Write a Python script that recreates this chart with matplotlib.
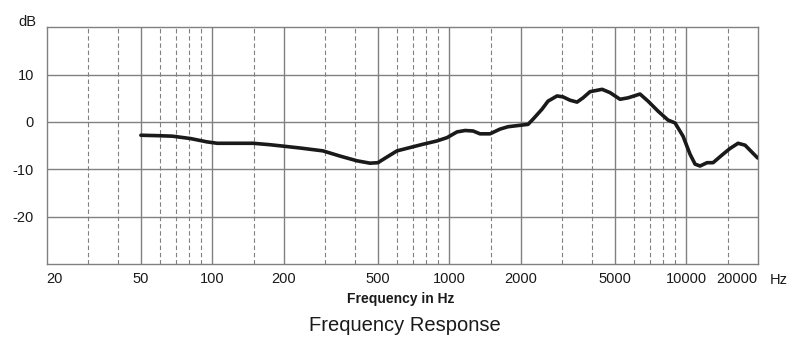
import matplotlib
matplotlib.use("Agg")
import matplotlib.pyplot as plt

plt.rcParams['font.family'] = ['Liberation Sans', 'DejaVu Sans']

# measured response (Hz, dB)
freq = [50, 60, 68, 81, 95, 105, 119, 149, 175, 199, 235, 293, 346, 408,
        463, 500, 546, 602, 683, 775, 888, 979, 1078, 1166, 1260, 1348,
        1486, 1638, 1770, 1989, 2150, 2257, 2462, 2610, 2849, 3020, 3232,
        3460, 3668, 3926, 4413, 4769, 5253, 5679, 6380, 6897, 7597, 8376,
        8965, 9690, 10370, 10890, 11430, 12230, 12970, 14290, 15290, 16540,
        17700, 20000]
level = [-2.8, -2.9, -3.0, -3.5, -4.2, -4.5, -4.5, -4.5, -4.8, -5.1, -5.5,
         -6.1, -7.2, -8.2, -8.7, -8.6, -7.4, -6.1, -5.4, -4.7, -4.0, -3.3,
         -2.1, -1.8, -1.9, -2.5, -2.5, -1.5, -1.0, -0.7, -0.5, 0.6, 2.7,
         4.4, 5.5, 5.3, 4.6, 4.2, 5.1, 6.4, 6.9, 6.2, 4.8, 5.1, 5.9, 4.4,
         2.3, 0.4, -0.2, -3.0, -6.8, -8.9, -9.3, -8.6, -8.6, -6.8, -5.6,
         -4.5, -4.9, -7.6]

major_f = [50, 100, 200, 500, 1000, 2000, 5000, 10000]
minor_f = [30, 40, 60, 70, 80, 90, 150, 300, 400, 600, 700, 800, 900,
           1500, 3000, 4000, 6000, 7000, 8000, 9000, 15000]
xtick_f = [20, 50, 100, 200, 500, 1000, 2000, 5000, 10000, 20000]
ytick_db = [10, 0, -10, -20]

grid_col = '#808080'
text_col = '#1a1a1a'

fig = plt.figure(figsize=(7.96, 3.43), dpi=100)
ax = fig.add_axes([0.0585, 0.2303, 0.8933, 0.6901])

for f in minor_f:
    ax.axvline(f, color=grid_col, lw=0.8, ls=(0, (4, 2.5)), zorder=1)
for f in major_f:
    ax.axvline(f, color=grid_col, lw=1.0, zorder=1)
for d in ytick_db:
    ax.axhline(d, color=grid_col, lw=1.0, zorder=1)

ax.plot(freq, level, color='#1a1a1a', lw=2.6, solid_joinstyle='round',
        solid_capstyle='round', zorder=3)

ax.set_xscale('log')
ax.set_xlim(20, 20000)
ax.set_ylim(-30, 20)

ax.set_xticks(xtick_f)
ax.set_xticklabels([str(f) for f in xtick_f])
ax.xaxis.set_minor_locator(matplotlib.ticker.NullLocator())
ax.set_yticks(ytick_db)
ax.set_yticklabels([str(d) for d in ytick_db])
ax.tick_params(axis='both', length=0, labelsize=10.5, colors=text_col)
ax.tick_params(axis='y', pad=9)
ax.tick_params(axis='x', pad=6)
labels = ax.get_xticklabels()
labels[0].set_horizontalalignment('left')
labels[-1].set_horizontalalignment('right')

for s in ax.spines.values():
    s.set_color(grid_col)
    s.set_linewidth(1.0)

fig.text(0.035, 0.936, 'dB', ha='center', va='center', fontsize=10.5,
         color=text_col)
fig.text(0.967, 0.184, 'Hz', ha='left', va='center', fontsize=10.5,
         color=text_col)
fig.text(0.504, 0.128, 'Frequency in Hz', ha='center', va='center',
         fontsize=10, fontweight='bold', color=text_col)
fig.text(0.509, 0.052, 'Frequency Response', ha='center', va='center',
         fontsize=14.5, color=text_col)

fig.savefig('out.png', dpi=100)
